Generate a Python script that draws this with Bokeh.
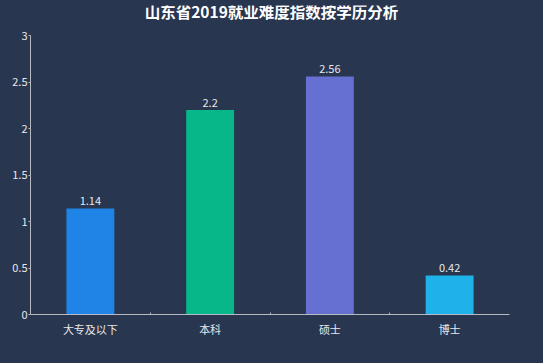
from bokeh.plotting import figure
from bokeh.models import ColumnDataSource, Range1d, FixedTicker, NumeralTickFormatter
from bokeh.core.properties import value
from bokeh.embed import file_html
from bokeh.resources import INLINE

title_text = "山东省2019就业难度指数按学历分析"
categories = ["大专及以下", "本科", "硕士", "博士"]
values = [1.14, 2.2, 2.56, 0.42]
colors = ["#1f84e6", "#07b689", "#6670d3", "#1fb1ea"]
value_labels = ["1.14", "2.2", "2.56", "0.42"]
y_ticks = [0, 0.5, 1, 1.5, 2, 2.5, 3]

BG = "#29364f"
FONT = "Noto Sans CJK SC"
AXIS_COLOR = "#b5bac4"
TEXT_COLOR = "#e8e8ec"

W, H = 527, 347
BL, BR, BT, BB = 30, 18, 5, 33
AXIS_TOP_PX = 35      # pixel row of the top of the value axis
TITLE_PX = 10         # pixel row of the title centre

y_max = y_ticks[-1]
frame_h = H - BT - BB
axis_h = H - BB - AXIS_TOP_PX
y_end = y_max * frame_h / axis_h
title_y = y_max * (H - BB - TITLE_PX) / axis_h

xs = [i + 0.5 for i in range(len(categories))]
src = ColumnDataSource(dict(x=xs, top=values, color=colors, label=value_labels))

p = figure(width=W, height=H, output_backend="svg", toolbar_location=None,
           x_range=Range1d(0, len(categories)), y_range=Range1d(0, y_end),
           min_border_left=BL, min_border_right=BR, min_border_top=BT, min_border_bottom=BB)
p.background_fill_color = BG
p.border_fill_color = BG
p.outline_line_color = None
p.grid.visible = False

p.text(x=[len(categories) / 2], y=[title_y], text=[title_text], text_align="center",
       text_baseline="middle", x_offset=1.5, text_color="#ffffff", text_font=value(FONT),
       text_font_size="15.5px", text_font_style="bold")

p.vbar(x="x", top="top", width=0.4, bottom=0, fill_color="color", line_color=None, source=src)
p.text(x="x", y="top", text="label", source=src, text_align="center", text_baseline="bottom",
       y_offset=-3, text_color=TEXT_COLOR, text_font=value(FONT), text_font_size="11px")

# y axis
p.yaxis.bounds = (0, y_max)
p.yaxis.ticker = FixedTicker(ticks=y_ticks)
p.yaxis.formatter = NumeralTickFormatter(format="0.[0]")
p.yaxis.axis_line_color = AXIS_COLOR
p.yaxis.major_tick_line_color = AXIS_COLOR
p.yaxis.major_tick_out = 2
p.yaxis.major_tick_in = 0
p.yaxis.minor_tick_line_color = None
p.yaxis.major_label_standoff = 1
p.yaxis.major_label_text_color = TEXT_COLOR
p.yaxis.major_label_text_font = FONT
p.yaxis.major_label_text_font_size = "11px"

# x axis
p.xaxis.ticker = FixedTicker(ticks=xs, minor_ticks=list(range(1, len(categories))))
p.xaxis.major_label_overrides = {x: c for x, c in zip(xs, categories)}
p.xaxis.axis_line_color = AXIS_COLOR
p.xaxis.major_tick_line_color = None
p.xaxis.minor_tick_line_color = AXIS_COLOR
p.xaxis.minor_tick_in = 2
p.xaxis.minor_tick_out = 0
p.xaxis.major_label_standoff = 0
p.xaxis.major_label_text_color = TEXT_COLOR
p.xaxis.major_label_text_font = FONT
p.xaxis.major_label_text_font_size = "11px"

html = file_html(p, INLINE)
html = html.replace("</head>", "<style>html,body{background:%s;}</style></head>" % BG, 1)
open("out.html", "w").write(html)
